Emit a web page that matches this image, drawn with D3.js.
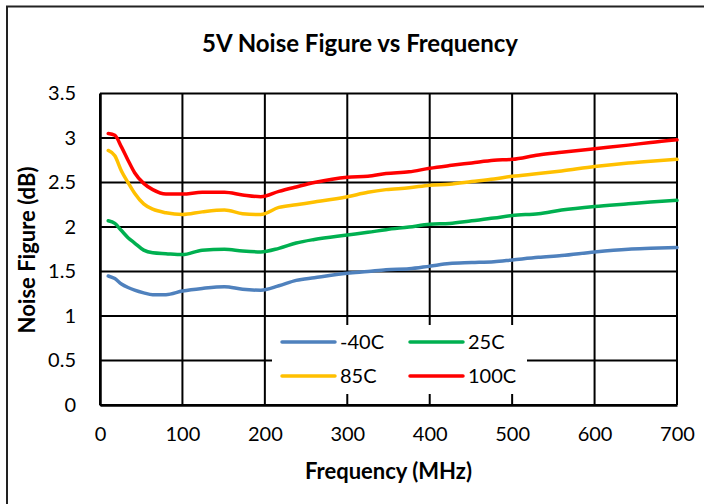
<!DOCTYPE html>
<html>
<head>
<meta charset="utf-8">
<script src="https://cdn.jsdelivr.net/npm/d3@7"></script>
<style>
  html, body { margin: 0; padding: 0; background: #fff; }
  svg { display: block; font-family: Lato, "Open Sans", sans-serif; }
</style>
</head>
<body>
<svg id="chart" width="704" height="504"></svg>
<script>
// Frequency sweep points (MHz)
const freqs = [10, 18, 26, 34, 42, 53, 64, 80, 100, 124, 151, 173, 195, 217, 238, 260,
               300, 325, 347, 375, 400, 424, 451, 478, 500, 532, 560, 600, 641, 668, 700];

// Noise figure (dB) per temperature
const nfMinus40 = [1.45, 1.42, 1.36, 1.32, 1.29, 1.26, 1.24, 1.24, 1.28, 1.31, 1.33, 1.30, 1.29, 1.34, 1.40, 1.43,
                   1.48, 1.50, 1.52, 1.53, 1.56, 1.59, 1.60, 1.61, 1.63, 1.66, 1.68, 1.72, 1.75, 1.76, 1.77];
const nf25 = [2.07, 2.04, 1.96, 1.88, 1.82, 1.74, 1.71, 1.70, 1.69, 1.74, 1.75, 1.73, 1.72, 1.76, 1.82, 1.86,
              1.91, 1.94, 1.97, 2.00, 2.03, 2.04, 2.07, 2.10, 2.13, 2.15, 2.19, 2.23, 2.26, 2.28, 2.30];
const nf85 = [2.86, 2.80, 2.63, 2.50, 2.38, 2.26, 2.20, 2.16, 2.14, 2.17, 2.19, 2.15, 2.14, 2.22, 2.25, 2.28,
              2.34, 2.39, 2.42, 2.44, 2.47, 2.48, 2.51, 2.54, 2.57, 2.60, 2.63, 2.68, 2.72, 2.74, 2.76];
const nf100 = [3.05, 3.03, 2.90, 2.75, 2.61, 2.49, 2.42, 2.37, 2.37, 2.39, 2.39, 2.36, 2.34, 2.40, 2.45, 2.50,
               2.56, 2.57, 2.60, 2.62, 2.66, 2.69, 2.72, 2.75, 2.76, 2.81, 2.84, 2.88, 2.92, 2.95, 2.98];

const seriesNames = ["-40C", "25C", "85C", "100C"];
const seriesColors = ["#4F81BD", "#00B050", "#FFC000", "#FF0000"];
const seriesValues = [nfMinus40, nf25, nf85, nf100];

const xTicks = [0, 100, 200, 300, 400, 500, 600, 700];
const yTicks = [0, 0.5, 1, 1.5, 2, 2.5, 3, 3.5];

const svg = d3.select("#chart");
const plot = { left: 100, right: 677, top: 93.5, bottom: 405 };

const x = d3.scaleLinear().domain([0, 700]).range([plot.left, plot.right]);
const y = d3.scaleLinear().domain([0, 3.5]).range([plot.bottom, plot.top]);

// Outer chart frame
svg.append("rect")
  .attr("x", 7).attr("y", 6.5)
  .attr("width", 720).attr("height", 520)
  .attr("fill", "#fff")
  .attr("stroke", "#222").attr("stroke-width", 2);

// Title
svg.append("text")
  .attr("x", 360).attr("y", 52)
  .attr("text-anchor", "middle")
  .attr("font-weight", "bold")
  .attr("font-size", 24)
  .text("5V Noise Figure vs Frequency");

// Gridlines
const grid = svg.append("g");
grid.selectAll("line.h").data(yTicks).join("line")
  .attr("x1", plot.left).attr("x2", plot.right)
  .attr("y1", d => y(d)).attr("y2", d => y(d))
  .attr("stroke", "#000").attr("stroke-width", 2);
grid.selectAll("line.v").data(xTicks).join("line")
  .attr("y1", plot.top).attr("y2", plot.bottom)
  .attr("x1", d => x(d)).attr("x2", d => x(d))
  .attr("stroke", "#000").attr("stroke-width", 2);

// Axes
const xAxis = svg.append("g")
  .attr("transform", `translate(0,${plot.bottom})`)
  .call(d3.axisBottom(x).tickValues(xTicks).tickSize(0).tickPadding(22).tickFormat(d3.format("d")));
const yAxis = svg.append("g")
  .attr("transform", `translate(${plot.left},0)`)
  .call(d3.axisLeft(y).tickValues(yTicks).tickSize(0).tickPadding(24).tickFormat(d => String(d)));
[xAxis, yAxis].forEach(a => {
  a.select(".domain").attr("stroke", "#000").attr("stroke-width", 2.5);
  a.selectAll("text").attr("font-size", 20).attr("font-family", "Lato, sans-serif").attr("fill", "#000");
});

// Axis titles
svg.append("text")
  .attr("x", (plot.left + plot.right) / 2).attr("y", 479)
  .attr("text-anchor", "middle")
  .attr("font-weight", "bold").attr("font-size", 22)
  .text("Frequency (MHz)");
svg.append("text")
  .attr("transform", "translate(35,250) rotate(-90)")
  .attr("text-anchor", "middle")
  .attr("font-weight", "bold").attr("font-size", 22)
  .text("Noise Figure (dB)");

// Series lines
const line = d3.line()
  .x((d, i) => x(freqs[i]))
  .y(d => y(d))
  .curve(d3.curveMonotoneX);

svg.append("g").selectAll("path").data(seriesValues).join("path")
  .attr("d", line)
  .attr("fill", "none")
  .attr("stroke", (d, i) => seriesColors[i])
  .attr("stroke-width", 3.5)
  .attr("stroke-linejoin", "round")
  .attr("stroke-linecap", "round");

// Legend
const legend = svg.append("g");
legend.append("rect")
  .attr("x", 272).attr("y", 325)
  .attr("width", 255).attr("height", 69)
  .attr("fill", "#fff");
const legendItems = legend.selectAll("g.item").data(seriesNames).join("g")
  .attr("transform", (d, i) => `translate(${282 + (i % 2) * 128},${342 + Math.floor(i / 2) * 34})`);
legendItems.append("line")
  .attr("x1", 0).attr("x2", 53)
  .attr("stroke", (d, i) => seriesColors[i])
  .attr("stroke-width", 3.5)
  .attr("stroke-linecap", "round");
legendItems.append("text")
  .attr("x", 58).attr("y", 7)
  .attr("font-size", 20)
  .text(d => d);
</script>
</body>
</html>
